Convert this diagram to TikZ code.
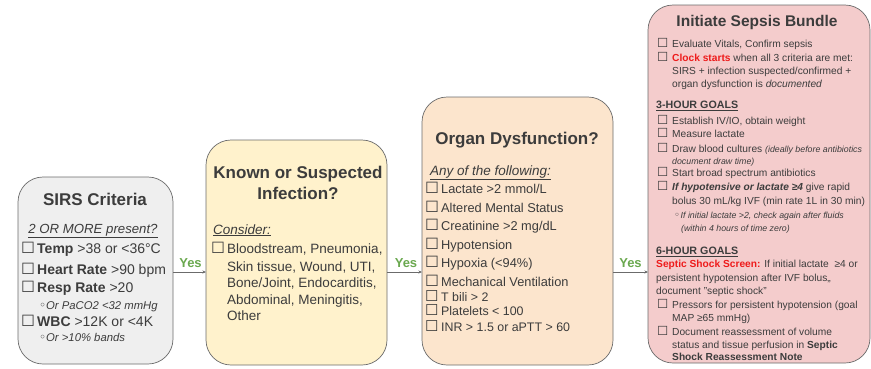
\documentclass[tikz,border=0pt]{standalone}
\usepackage{fontspec}
\setmainfont{Liberation Sans}
\newfontfamily\symf{DejaVu Sans}
\usetikzlibrary{arrows.meta}
\definecolor{txt}{HTML}{3C3C3C}
\definecolor{edge}{HTML}{6B6B6B}
\definecolor{sirsfill}{HTML}{EFEFEF}
\definecolor{inffill}{HTML}{FFF2CC}
\definecolor{orgfill}{HTML}{FCE5CD}
\definecolor{bunfill}{HTML}{F4CCCC}
\definecolor{yesgreen}{HTML}{6AA84F}
\definecolor{alertred}{HTML}{EE1B1B}
\newcommand\fsz[1]{\fontsize{#1}{#1}\selectfont}
\newcommand\cbx[2]{\makebox[#2][l]{\symf\fontsize{#1}{#1}\selectfont ☐}}
\newcommand\wbul[2]{\makebox[#2][l]{\symf\fontsize{#1}{#1}\selectfont ◦}}
\tikzset{
  card/.style={draw=edge, line width=0.7pt, rounded corners=25pt, inner sep=0pt, outer sep=0pt},
  ttl/.style={anchor=base, inner sep=0pt, text=txt, font=\bfseries\fsz{17}},
  ln/.style={anchor=base west, inner sep=0pt, text=txt},
  yes/.style={anchor=base, inner sep=0pt, text=yesgreen, font=\bfseries\fsz{13}},
  link/.style={draw=edge, line width=0.6pt, -{Stealth[length=3.5pt,width=3pt]}}
}
\begin{document}
\begin{tikzpicture}[x=1pt,y=-1pt]
\useasboundingbox (0,0) rectangle (871,368);
% ---------- boxes
\node[card, fill=sirsfill, minimum width=155pt, minimum height=187pt] (sirs) at (95.5,270.5) {};
\node[card, fill=inffill, minimum width=181pt, minimum height=225pt] (inf) at (296.5,252.5) {};
\node[card, fill=orgfill, minimum width=191pt, minimum height=268pt] (org) at (517.5,231) {};
\node[card, fill=bunfill, minimum width=222pt, minimum height=358pt] (bun) at (759,184) {};
% ---------- SIRS
\node[ttl] (sT) at (95,205) {SIRS Criteria};
\node[ln, anchor=base, font=\itshape\fsz{13.2}] (sS) at (93,233.5) {\underline{2 OR MORE present?}};
\node[ln, font=\fsz{14}] (s1) at (21,253) {\cbx{15.5}{16pt}\textbf{Temp} >38 or <36°C};
\node[ln, font=\fsz{14}] (s2) at (21,274) {\cbx{15.5}{16pt}\textbf{Heart Rate} >90 bpm};
\node[ln, font=\fsz{14}] (s3) at (21,292) {\cbx{15.5}{16pt}\textbf{Resp Rate} >20};
\node[ln, font=\itshape\fsz{11.3}] (s3a) at (39,309) {\wbul{12}{7pt}Or PaCO2 <32 mmHg};
\node[ln, font=\fsz{14}] (s4) at (21,326.5) {\cbx{15.5}{16pt}\textbf{WBC} >12K or <4K};
\node[ln, font=\itshape\fsz{11.3}] (s4a) at (39,341) {\wbul{12}{7pt}Or >10\% bands};
% ---------- Infection
\node[ttl] (iT1) at (298,178) {Known or Suspected};
\node[ttl] (iT2) at (298,199) {Infection?};
\node[ln, font=\itshape\fsz{13.5}] (iS) at (213,234) {\underline{Consider:}};
\node[ln, font=\fsz{13.5}] (i1) at (211,253) {\cbx{15.5}{16pt}Bloodstream, Pneumonia,};
\node[ln, font=\fsz{13.5}] (i2) at (227,271) {Skin tissue, Wound, UTI,};
\node[ln, font=\fsz{13.5}] (i3) at (227,287.5) {Bone/Joint, Endocarditis,};
\node[ln, font=\fsz{13.5}] (i4) at (227,304) {Abdominal, Meningitis,};
\node[ln, font=\fsz{13.5}] (i5) at (227,320) {Other};
% ---------- Organ
\node[ttl] (oT) at (517,144) {Organ Dysfunction?};
\node[ln, font=\itshape\fsz{13.5}] (oS) at (430,175) {\underline{Any of the following:}};
\node[ln, font=\fsz{12.8}] (o1) at (425,193.5) {\cbx{15.5}{16pt}Lactate >2 mmol/L};
\node[ln, font=\fsz{12.8}] (o2) at (425,212) {\cbx{15.5}{16pt}Altered Mental Status};
\node[ln, font=\fsz{12.8}] (o3) at (425,230.5) {\cbx{15.5}{16pt}Creatinine >2 mg/dL};
\node[ln, font=\fsz{12.8}] (o4) at (425,249) {\cbx{15.5}{16pt}Hypotension};
\node[ln, font=\fsz{12.8}] (o5) at (425,267.5) {\cbx{15.5}{16pt}Hypoxia (<94\%)};
\node[ln, font=\fsz{12.8}] (o6) at (425,286.5) {\cbx{15.5}{16pt}Mechanical Ventilation};
\node[ln, font=\fsz{12.4}] (o7) at (425,301) {\cbx{15}{16pt}T bili > 2};
\node[ln, font=\fsz{12.4}] (o8) at (425,315.5) {\cbx{15}{16pt}Platelets < 100};
\node[ln, font=\fsz{12.4}] (o9) at (425,331.5) {\cbx{15}{16pt}INR > 1.5 or aPTT > 60};
% ---------- Bundle
\node[ttl, font=\bfseries\fsz{15.5}] (bT) at (757,26) {Initiate Sepsis Bundle};
\node[ln, font=\fsz{10.2}] (b1) at (657,47) {\cbx{12.5}{15pt}Evaluate Vitals, Confirm sepsis};
\node[ln, font=\fsz{10.2}] (b2) at (657,61) {\cbx{12.5}{15pt}{\color{alertred}\bfseries Clock starts} when all 3 criteria are met:};
\node[ln, font=\fsz{10.2}] (b2a) at (672,74.4) {SIRS + infection suspected/confirmed +};
\node[ln, font=\fsz{10.2}] (b2b) at (672,87.7) {organ dysfunction is \textit{documented}};
\node[ln, font=\bfseries\fsz{10.7}] (bH3) at (656,108.9) {\underline{3-HOUR GOALS}};
\node[ln, font=\fsz{10.2}] (b3) at (657,124.2) {\cbx{12.5}{15pt}Establish IV/IO, obtain weight};
\node[ln, font=\fsz{10.2}] (b4) at (657,137.7) {\cbx{12.5}{15pt}Measure lactate};
\node[ln, font=\fsz{10.2}] (b5) at (657,152.3) {\cbx{12.5}{15pt}Draw blood cultures {\itshape\fsz{8.8}(ideally before antibiotics}};
\node[ln, font=\itshape\fsz{8.8}] (b5a) at (672,164.6) {document draw time)};
\node[ln, font=\fsz{10.2}] (b6) at (657,176.4) {\cbx{12.5}{15pt}Start broad spectrum antibiotics};
\node[ln, font=\fsz{10.2}] (b7) at (657,190.6) {\cbx{12.5}{15pt}\textbf{\textit{If hypotensive or lactate ≥4}} give rapid};
\node[ln, font=\fsz{10.2}] (b7a) at (672,204.7) {bolus 30 mL/kg IVF (min rate 1L in 30 min)};
\node[ln, font=\itshape\fsz{8.8}] (b7b) at (674,218.2) {\wbul{10}{6.5pt}If initial lactate >2, check again after fluids};
\node[ln, font=\itshape\fsz{8.8}] (b7c) at (681,231.5) {(within 4 hours of time zero)};
\node[ln, font=\bfseries\fsz{10.7}] (bH6) at (656,254.3) {\underline{6-HOUR GOALS}};
\node[ln, font=\fsz{10.2}] (b8) at (656,267.5) {{\color{alertred}\bfseries Septic Shock Screen:} If initial lactate \ ≥4 or};
\node[ln, font=\fsz{10.2}] (b8a) at (656,281) {persistent hypotension after IVF bolus,,};
\node[ln, font=\fsz{10.2}] (b8b) at (656,294.5) {document "septic shock"};
\node[ln, font=\fsz{10.2}] (b9) at (657,308) {\cbx{12.5}{15pt}Pressors for persistent hypotension (goal};
\node[ln, font=\fsz{10.2}] (b9a) at (672,321.5) {MAP ≥65 mmHg)};
\node[ln, font=\fsz{10.2}] (b10) at (657,335) {\cbx{12.5}{15pt}Document reassessment of volume};
\node[ln, font=\fsz{10.2}] (b10a) at (672,348.3) {status and tissue perfusion in \textbf{Septic}};
\node[ln, font=\fsz{10.2}] (b10b) at (672,360) {\textbf{Shock Reassessment Note}};
% ---------- connectors
\coordinate (ay) at (0,272);
\draw[link] (sirs.east |- ay) -- (inf.west |- ay);
\draw[link] (inf.east |- ay) -- (org.west |- ay);
\draw[link] (org.east |- ay) -- (bun.west |- ay);
\node[yes] (y1) at (190.5,267) {Yes};
\node[yes] (y2) at (406,267) {Yes};
\node[yes] (y3) at (630.5,267) {Yes};
\end{tikzpicture}
\end{document}
